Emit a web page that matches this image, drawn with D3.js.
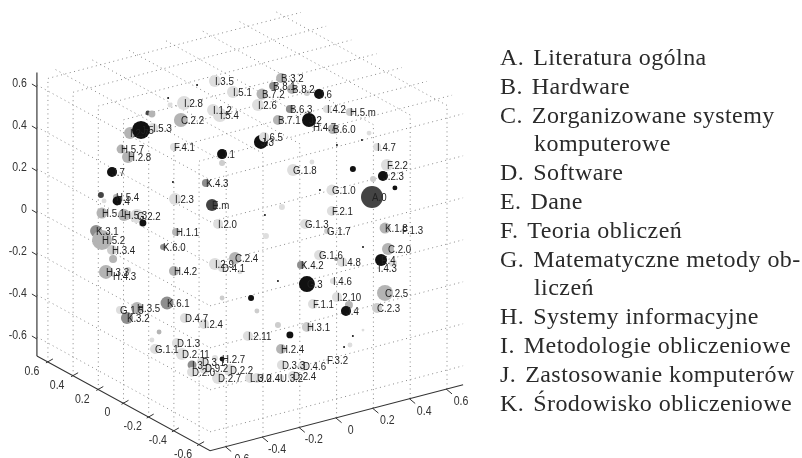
<!DOCTYPE html>
<meta charset="utf-8">
<style>
  body { margin: 0; background: #fff; }
  svg { display: block; }
  .tick-label { font: 12px "Liberation Sans", sans-serif; fill: #333; }
  .pt-label { font: 11px "Liberation Sans", sans-serif; fill: #222; }
  .legend { font: 24px "Liberation Serif", serif; fill: #2a2a2a; letter-spacing: 0.45px; }
  .grid { fill: none; stroke: #888; stroke-width: 1; stroke-dasharray: 1 3.5; }
</style>
<script src="https://d3js.org/d3.v7.min.js"></script>
<div id="chart"></div>
<script>

// axis ticks
var ticks = [-0.6, -0.4, -0.2, 0, 0.2, 0.4, 0.6];
var tickLabels = ["-0.6", "-0.4", "-0.2", "0", "0.2", "0.4", "0.6"];

// points. viewU = horizontal position, viewV = height (same unit as the vertical axis)
var labels = ["I.3.5","I.5.1","I.2.8","I.1.2","I.5.4","C.2.2","","","","","","I.5.3","I.2.7","J.5","H.5.7","H.2.8","F.4.1","J.1","","J.7",
  "K.4.3","","","","H.5.4","J.4","I.2.3","E.m","I.2.0","H.5.1","H.5.3","G.2.2","","H.1.1","K.3.1","H.5.2","K.6.0","H.3.4","","H.3.3",
  "H.4.3","","H.4.2","I.2.9","C.2.4","D.4.1","","","K.6.1","H.3.5","G.1.5","K.3.2","D.4.7","I.2.4","","","D.1.3","G.1.1","D.2.11","D.3.1",
  "","H.2.7","I.3","D.2.0","D.9.2","D.2.2","D.2.7","L.3.0","U.2.4","U.3.2",
  "G.1.6","I.4.8","","K.4.2","C.2.0","E.4","I.4.3","","G.3","I.4.6","C.2.5","I.2.10","F.1.1","","J.4","C.2.3","","","H.3.1","I.2.11",
  "","","H.2.4","","","","","D.3.3","D.4.6","F.3.2","D.2.4","","",
  "B.3.2","B.8.1","B.8.2","","J.6","B.7.2","I.2.6","B.6.3","I.4.2","H.5.m","B.7.1","J.2","H.4.7","B.6.0","","J.3","I.6.5","I.4.7","F.2.2","G.1.8",
  "","","J.2.3","","A.0","","G.1.0","F.2.1","","G.1.3","G.1.7","K.1.8","F.1.3","","","","",""];
var viewU = [-.167,-.081,-.314,-.176,-.143,-.329,-.486,-.467,-.390,-.381,-.252,-.462,-.571,-.519,-.614,-.581,-.362,-.133,-.133,-.657,
  -.210,-.367,-.710,-.695,-.638,-.633,-.357,-.181,-.152,-.705,-.600,-.538,-.510,-.352,-.733,-.705,-.414,-.657,-.652,-.686,
  -.652,-.581,-.362,-.167,-.071,-.133,-.048,-.133,-.395,-.538,-.619,-.586,-.310,-.219,-.433,-.467,-.348,-.452,-.324,-.229,
  -.167,-.133,-.276,-.276,-.214,-.095,-.152,0,.033,.143,
  .329,.438,.410,.243,.657,.624,.610,.681,.271,.395,.643,.414,.300,.471,.457,.605,.005,.033,.271,-.010,
  .190,.133,.148,.476,.490,.448,.538,.152,.252,.367,.205,.133,.538,
  .148,.110,.200,.271,.329,.057,.038,.190,.367,.476,.133,.281,.300,.395,.567,.052,.067,.605,.652,.205,
  .295,.490,.633,.586,.581,.690,.390,.390,.152,.262,.367,.643,.724,.076,.071,.333,.414,.533];
var viewV = [.619,.567,.514,.481,.457,.433,.467,.462,.538,.505,.600,.395,.371,.386,.295,.257,.305,.271,.229,.186,
  .133,.138,.076,.048,.067,.048,.057,.029,-.062,-.010,-.019,-.024,-.057,-.100,-.095,-.138,-.171,-.186,-.229,-.290,
  -.310,-.281,-.286,-.252,-.224,-.271,-.290,-.414,-.438,-.462,-.471,-.510,-.510,-.538,-.576,-.614,-.629,-.657,-.681,-.719,
  -.700,-.705,-.733,-.767,-.748,-.757,-.795,-.795,-.795,-.795,
  -.210,-.243,-.229,-.257,-.181,-.233,-.271,-.248,-.348,-.333,-.390,-.410,-.443,-.448,-.476,-.462,-.414,-.476,-.552,-.595,
  -.590,-.543,-.657,-.638,-.595,-.648,-.567,-.733,-.738,-.710,-.786,-.333,-.171,
  .633,.595,.581,.562,.557,.557,.505,.486,.486,.471,.433,.433,.400,.390,.371,.329,.352,.305,.219,.195,
  .233,.200,.167,.152,.067,.110,.100,0,.019,-.062,-.095,-.081,-.090,-.119,-.019,.100,.314,.338];
// marker area
var weights = [36,36,49,36,49,49,6,12,1,6,1,25,36,81,20,36,16,25,9,25,
  16,1,9,6,9,20,36,36,25,30,36,49,12,16,36,100,9,25,16,49,
  1,9,25,36,36,16,6,6,42,36,16,36,25,25,6,6,25,25,36,25,
  9,6,20,25,36,36,36,25,25,16,
  25,25,4,16,36,36,1,16,64,9,64,25,25,16,25,25,9,6,25,25,
  12,9,25,6,1,1,2,25,25,1,25,1,1,
  25,16,25,9,25,30,36,16,16,16,25,49,1,25,6,49,25,16,36,36,
  6,9,25,9,121,6,30,25,9,25,9,30,1,9,1,1,1,1];
// grey level: 0 black .. 5 palest
var shades = [5,5,5,5,5,3,1,3,0,5,0,5,3,0,3,3,5,0,4,0,
  2,0,1,5,3,0,5,1,5,3,3,5,0,3,2,3,2,4,3,3,
  4,4,3,5,3,5,5,4,2,3,5,2,5,5,3,5,5,5,5,5,
  5,0,2,5,5,5,5,5,5,5,
  5,5,2,2,3,0,5,5,0,5,3,5,5,3,0,4,0,4,4,5,
  0,4,3,5,0,0,5,5,5,5,5,0,0,
  3,2,3,4,0,3,5,2,5,4,3,0,4,3,5,0,5,5,5,5,
  5,0,0,4,1,0,5,5,5,5,4,3,5,5,0,0,0,0];
var greys = ["#111", "#444", "#8e8e8e", "#b4b4b4", "#cdcdcd", "#dedede"];

var legendLines = [
  "A.\u00a0\u200aLiteratura ogólna", "B.\u00a0\u200aHardware", "C.\u00a0\u200aZorganizowane systemy", "komputerowe",
  "D.\u00a0\u200aSoftware", "E.\u00a0\u200aDane", "F.\u00a0\u200aTeoria obliczeń", "G.\u00a0\u200aMatematyczne metody ob-", "liczeń",
  "H.\u00a0\u200aSystemy informacyjne", "I.\u00a0\u200aMetodologie obliczeniowe", "J.\u00a0\u200aZastosowanie komputerów", "K.\u00a0\u200aŚrodowisko obliczeniowe"];
var legendIndented = ["komputerowe", "liczeń"];

var svg = d3.select("#chart").append("svg").attr("width", 802).attr("height", 458);
var plot = svg.append("g").style("filter", "blur(0.45px)");

// the box limits run a bit past the last tick
var lim = 0.6875, zLow = -0.69, zHigh = 0.66;

var xAcross = d3.scaleLinear().domain([-lim, lim]).range([-126.5, 126.5]);
var xDrop = d3.scaleLinear().domain([-lim, lim]).range([33, -33]);
var yAcross = d3.scaleLinear().domain([-lim, lim]).range([86.6, -86.6]);
var yDrop = d3.scaleLinear().domain([-lim, lim]).range([47.4, -47.4]);
var zDrop = d3.scaleLinear().domain([0, 1]).range([0, -210]);

function project(x, y, z) {
  return [250 + xAcross(x) + yAcross(y), 225.4 + xDrop(x) + yDrop(y) + zDrop(z)];
}

var line = d3.line();
function seg(a, b) { return line([project(a[0], a[1], a[2]), project(b[0], b[1], b[2])]); }

// narrow the text a little, the original is condensed
function squeeze(x, y) { return "translate(" + x + "," + y + ") scale(0.88,1)"; }

// dotted grid: two walls and the top plane
ticks.forEach(function(t) {
  // left wall x = -lim
  plot.append("path").attr("class", "grid").attr("d", seg([-lim, lim, t], [-lim, -lim, t]));
  plot.append("path").attr("class", "grid").attr("d", seg([-lim, t, zLow], [-lim, t, zHigh]));
  // right wall y = -lim
  plot.append("path").attr("class", "grid").attr("d", seg([-lim, -lim, t], [lim, -lim, t]));
  plot.append("path").attr("class", "grid").attr("d", seg([t, -lim, zLow], [t, -lim, zHigh]));
  // top
  plot.append("path").attr("class", "grid").attr("d", seg([-lim, t, zHigh], [lim, t, zHigh]));
  plot.append("path").attr("class", "grid").attr("d", seg([t, -lim, zHigh], [t, lim, zHigh]));
});

// solid axes
plot.append("path").attr("fill", "none").attr("stroke", "#333").attr("stroke-width", 1.1)
  .attr("d", line([project(-lim, lim, zLow), project(-lim, -lim, zLow), project(lim, -lim, zLow)]));
plot.append("path").attr("fill", "none").attr("stroke", "#555").attr("stroke-width", 1.4)
  .attr("d", seg([-lim, lim, zLow], [-lim, lim, zHigh]));

ticks.forEach(function(t, i) {
  var p;
  // vertical axis
  p = project(-lim, lim, t);
  plot.append("line").attr("x1", p[0]).attr("y1", p[1] + 2).attr("x2", p[0] - 5).attr("y2", p[1] - 1).attr("stroke", "#333");
  plot.append("text").attr("class", "tick-label").attr("text-anchor", "end")
    .attr("transform", squeeze(p[0] - 10, p[1] + 2)).text(tickLabels[i]);
  // left floor axis
  p = project(-lim, t, zLow);
  plot.append("line").attr("x1", p[0] - 2).attr("y1", p[1] + 1).attr("x2", p[0] + 5).attr("y2", p[1] - 3).attr("stroke", "#333");
  plot.append("text").attr("class", "tick-label").attr("text-anchor", "middle")
    .attr("transform", squeeze(p[0] - 16, p[1] + 13)).text(tickLabels[i]);
  // right floor axis
  p = project(t, -lim, zLow);
  plot.append("line").attr("x1", p[0] - 1).attr("y1", p[1]).attr("x2", p[0] + 5).attr("y2", p[1] + 5).attr("stroke", "#333");
  plot.append("text").attr("class", "tick-label").attr("text-anchor", "middle")
    .attr("transform", squeeze(p[0] + 14, p[1] + 16)).text(tickLabels[i]);
});

// points
var uScale = d3.scaleLinear().domain([-1, 1]).range([40, 460]);
var vScale = d3.scaleLinear().domain([-0.6, 0.6]).range([337, 85]);
var rScale = d3.scaleSqrt().domain([0, 121]).range([0, 11]);
var shadeScale = d3.scaleOrdinal().domain([0, 1, 2, 3, 4, 5]).range(greys);

var idx = d3.range(labels.length);

plot.selectAll("circle.pt")
  .data(idx)
  .enter()
  .append("circle")
    .attr("class", "pt")
    .attr("cx", function(d) { return uScale(viewU[d]); })
    .attr("cy", function(d) { return vScale(viewV[d]); })
    .attr("r", function(d) { return rScale(weights[d]); })
    .attr("fill", function(d) { return shadeScale(shades[d]); });

plot.selectAll("text.pt-label")
  .data(idx.filter(function(d) { return labels[d] != ""; }))
  .enter()
  .append("text")
    .attr("class", "pt-label")
    .attr("transform", function(d) { return squeeze(uScale(viewU[d]), vScale(viewV[d]) + 4); })
    .text(function(d) { return labels[d]; });

// legend
svg.append("g").style("filter", "blur(0.3px)")
  .selectAll("text.legend")
  .data(legendLines)
  .enter()
  .append("text")
    .attr("class", "legend")
    .attr("x", function(d) { return legendIndented.indexOf(d) >= 0 ? 534 : 500; })
    .attr("y", function(d, i) { return 65 + i * 28.8; })
    .text(function(d) { return d; });

</script>
